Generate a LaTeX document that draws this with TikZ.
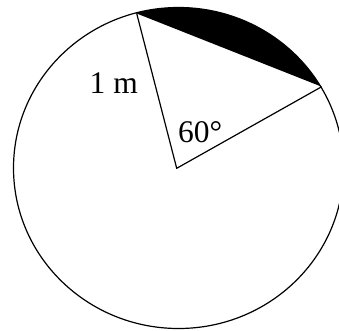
\documentclass[tikz,border=0pt]{standalone}
\usepackage{fontspec}
\setmainfont{Liberation Serif}
\usetikzlibrary{calc}
\begin{document}
\begin{tikzpicture}[x=1pt,y=-1pt,
  edge/.style={line width=1.2pt,black},
  lbl/.style={inner sep=0pt,anchor=base west,font=\fontsize{31.5}{36}\selectfont}]
\useasboundingbox (0,0) rectangle (339,330);
\clip (0,0) rectangle (339,330);
\coordinate (C) at (178.5,168);
\coordinate (O) at (176.7,168.3);
\coordinate (A) at (136.7,13.5);
\coordinate (B) at (321.7,86.7);
\begin{scope}
  \clip ($(A)!-1!(B)$) -- ($(A)!2!(B)$) -- (520,-200) -- (-100,-200) -- cycle;
  \fill[black] (C) ellipse [x radius=165, y radius=160.5];
\end{scope}
\draw[edge] (C) ellipse [x radius=165, y radius=160.5];
\draw[edge] (A) -- (O) -- (B);
\node[lbl] (m) at (89.5,93.3) {1 m};
\node[lbl] (ang) at (178,142.7) {60°};
\end{tikzpicture}
\end{document}
